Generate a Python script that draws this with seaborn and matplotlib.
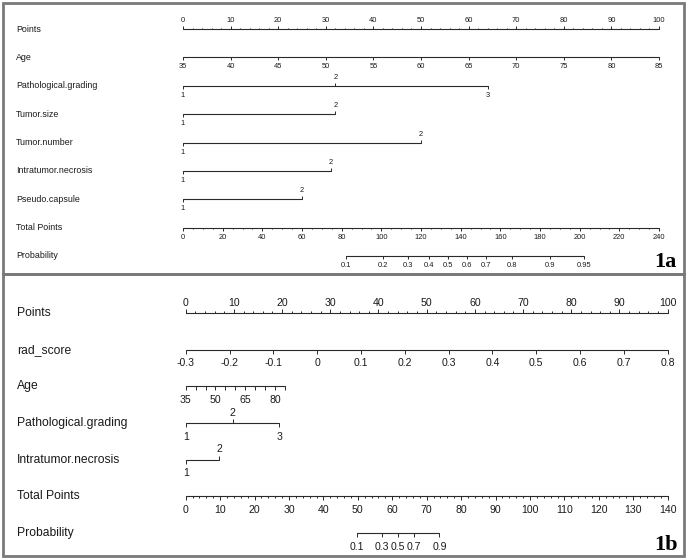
import numpy as np
import pandas as pd
import matplotlib
matplotlib.use("Agg")
import matplotlib.pyplot as plt
import seaborn as sns
from matplotlib.patches import Rectangle

# ---------------- data: panel 1a ----------------
a_points_major = list(range(0, 101, 10))
a_points_minor = list(range(0, 101, 2))
a_age_ticks = [35, 40, 45, 50, 55, 60, 65, 70, 75, 80, 85]
a_age_range = [35, 85]
a_age_pts = [0, 100]
a_grade_levels = ["1", "2", "3"]
a_grade_pts = [0, 32, 64]
a_size_levels = ["1", "2"]
a_size_pts = [0, 32]
a_number_levels = ["1", "2"]
a_number_pts = [0, 50]
a_necrosis_levels = ["1", "2"]
a_necrosis_pts = [0, 31]
a_capsule_levels = ["1", "2"]
a_capsule_pts = [0, 25]
a_total_major = list(range(0, 241, 20))
a_total_minor = list(range(0, 241, 5))
a_total_max = 240
a_prob_labels = ["0.1", "0.2", "0.3", "0.4", "0.5", "0.6", "0.7", "0.8", "0.9", "0.95"]
a_prob_total = [82, 101, 113.5, 124, 133.4, 143, 153, 166, 185, 202]

# ---------------- data: panel 1b ----------------
b_points_major = list(range(0, 101, 10))
b_points_minor = list(range(0, 101, 2))
b_rad_ticks = [-0.3, -0.2, -0.1, 0, 0.1, 0.2, 0.3, 0.4, 0.5, 0.6, 0.7, 0.8]
b_rad_labels = ["-0.3", "-0.2", "-0.1", "0", "0.1", "0.2", "0.3", "0.4", "0.5", "0.6", "0.7", "0.8"]
b_rad_range = [-0.3, 0.8]
b_rad_pts = [0, 100]
b_age_ticks = [35, 40, 45, 50, 55, 60, 65, 70, 75, 80, 85]
b_age_shown = [35, 50, 65, 80]
b_age_range = [35, 85]
b_age_pts = [0, 20.6]
b_grade_levels = ["1", "2", "3"]
b_grade_pts = [0, 9.75, 19.4]
b_necrosis_levels = ["1", "2"]
b_necrosis_pts = [0, 6.9]
b_total_major = list(range(0, 141, 10))
b_total_minor = list(range(0, 141, 2))
b_total_max = 140
b_prob_labels = ["0.1", "0.3", "0.5", "0.7", "0.9"]
b_prob_total = [49.7, 57.1, 61.7, 66.3, 73.7]

# ---------------- style ----------------
sns.set_theme(style="white")
plt.rcParams["font.family"] = ["Liberation Sans", "DejaVu Sans"]
LINE = "#2a2a2a"
TEXT = "#1a1a1a"

W, H = 689, 560
fig = plt.figure(figsize=(W / 100, H / 100), dpi=100)


def make_axes(px0, ppp, y_top, y_bot, row0, step):
    ax = fig.add_axes([0, 1 - y_bot / H, 1, (y_bot - y_top) / H])
    ax.set_xlim(-px0 / ppp, (W - px0) / ppp)
    ax.set_ylim((y_bot - row0) / step, (y_top - row0) / step)
    ax.axis("off")
    return ax


class Panel:
    def __init__(self, ax, ppp, step, label_px, rowfs, tickfs, tmaj, tmin, off_below, off_above):
        self.ax, self.ppp, self.step = ax, ppp, step
        self.label_x = ax.get_xlim()[0] + label_px / ppp
        self.rowfs, self.tickfs = rowfs, tickfs
        self.tmaj, self.tmin = tmaj / step, tmin / step
        self.ob, self.oa = off_below / step, off_above / step
        self.segments = []

    def row_label(self, row, text):
        self.ax.text(self.label_x, row, text, ha="left", va="center",
                     fontsize=self.rowfs, color=TEXT)

    def scale(self, row, pos, labels, sides, minor=None):
        pos = list(pos)
        self.segments.append((row, min(pos), max(pos)))
        if minor is not None:
            for m in minor:
                d = -1 if sides[0] == "above" else 1
                self.ax.vlines(m, row, row + d * self.tmin, color=LINE, lw=0.7)
        for p, lab, s in zip(pos, labels, sides):
            d = -1 if s == "above" else 1
            self.ax.vlines(p, row, row + d * self.tmaj, color=LINE, lw=0.7)
            if lab is not None:
                off = -self.oa if s == "above" else self.ob
                self.ax.text(p, row + off, lab, ha="center", va="center",
                             fontsize=self.tickfs, color=TEXT)

    def finish(self):
        df = pd.DataFrame(
            [(i, x, r) for i, (r, a, b) in enumerate(self.segments) for x in (a, b)],
            columns=["seg", "x", "y"])
        sns.lineplot(data=df, x="x", y="y", units="seg", estimator=None,
                     color=LINE, lw=0.8, ax=self.ax, legend=False, sort=False)
        self.ax.axis("off")


def cat_sides(n):
    return ["below" if i % 2 == 0 else "above" for i in range(n)]


# ---------------- panel 1a ----------------
ax_a = make_axes(183, 4.76, 0, 274, 29, 28.375)
pa = Panel(ax_a, 4.76, 28.375, 16, 6.4, 5.4, 3.0, 1.5, 9.5, 8.5)
rows_a = ["Points", "Age", "Pathological.grading", "Tumor.size", "Tumor.number",
          "Intratumor.necrosis", "Pseudo.capsule", "Total Points", "Probability"]
for i, name in enumerate(rows_a):
    pa.row_label(i, name)

pa.scale(0, a_points_major, [str(v) for v in a_points_major], ["above"] * 11,
         minor=a_points_minor)
pa.scale(1, np.interp(a_age_ticks, a_age_range, a_age_pts),
         [str(v) for v in a_age_ticks], ["below"] * len(a_age_ticks))
pa.scale(2, a_grade_pts, a_grade_levels, cat_sides(3))
pa.scale(3, a_size_pts, a_size_levels, cat_sides(2))
pa.scale(4, a_number_pts, a_number_levels, cat_sides(2))
pa.scale(5, a_necrosis_pts, a_necrosis_levels, cat_sides(2))
pa.scale(6, a_capsule_pts, a_capsule_levels, cat_sides(2))
tot_a = lambda v: np.asarray(v, dtype=float) * 100 / a_total_max
pa.scale(7, tot_a(a_total_major), [str(v) for v in a_total_major],
         ["below"] * len(a_total_major), minor=tot_a(a_total_minor))
pa.scale(8, tot_a(a_prob_total), a_prob_labels, ["below"] * len(a_prob_labels))
pa.finish()

# ---------------- panel 1b ----------------
ax_b = make_axes(185.7, 4.82, 274, 560, 313, 36.667)
pb = Panel(ax_b, 4.82, 36.667, 17, 8.7, 7.6, 4.0, 2.0, 13.5, 10.5)
rows_b = ["Points", "rad_score", "Age", "Pathological.grading", "Intratumor.necrosis",
          "Total Points", "Probability"]
for i, name in enumerate(rows_b):
    pb.row_label(i, name)

pb.scale(0, b_points_major, [str(v) for v in b_points_major], ["above"] * 11,
         minor=b_points_minor)
pb.scale(1, np.interp(b_rad_ticks, b_rad_range, b_rad_pts), b_rad_labels,
         ["below"] * len(b_rad_ticks))
pb.scale(2, np.interp(b_age_ticks, b_age_range, b_age_pts),
         [str(v) if v in b_age_shown else None for v in b_age_ticks],
         ["below"] * len(b_age_ticks))
pb.scale(3, b_grade_pts, b_grade_levels, cat_sides(3))
pb.scale(4, b_necrosis_pts, b_necrosis_levels, cat_sides(2))
tot_b = lambda v: np.asarray(v, dtype=float) * 100 / b_total_max
pb.scale(5, tot_b(b_total_major), [str(v) for v in b_total_major],
         ["below"] * len(b_total_major), minor=tot_b(b_total_minor))
pb.scale(6, tot_b(b_prob_total), b_prob_labels, ["below"] * len(b_prob_labels))
pb.finish()

# ---------------- panel tags & frames ----------------
fig.text(676 / W, 1 - 267 / H, "1a", ha="right", va="baseline", fontsize=16,
         fontweight="bold", family=["Liberation Serif", "DejaVu Serif"], color="black")
fig.text(678 / W, 1 - 550 / H, "1b", ha="right", va="baseline", fontsize=16,
         fontweight="bold", family=["Liberation Serif", "DejaVu Serif"], color="black")

for (y0, y1) in [(3, 274), (274, 556)]:
    fig.patches.append(Rectangle((3 / W, 1 - y1 / H), 681 / W, (y1 - y0) / H,
                                 transform=fig.transFigure, fill=False,
                                 edgecolor="#7a7a7a", lw=2.0))

fig.savefig("out.png", dpi=100, facecolor="white")
